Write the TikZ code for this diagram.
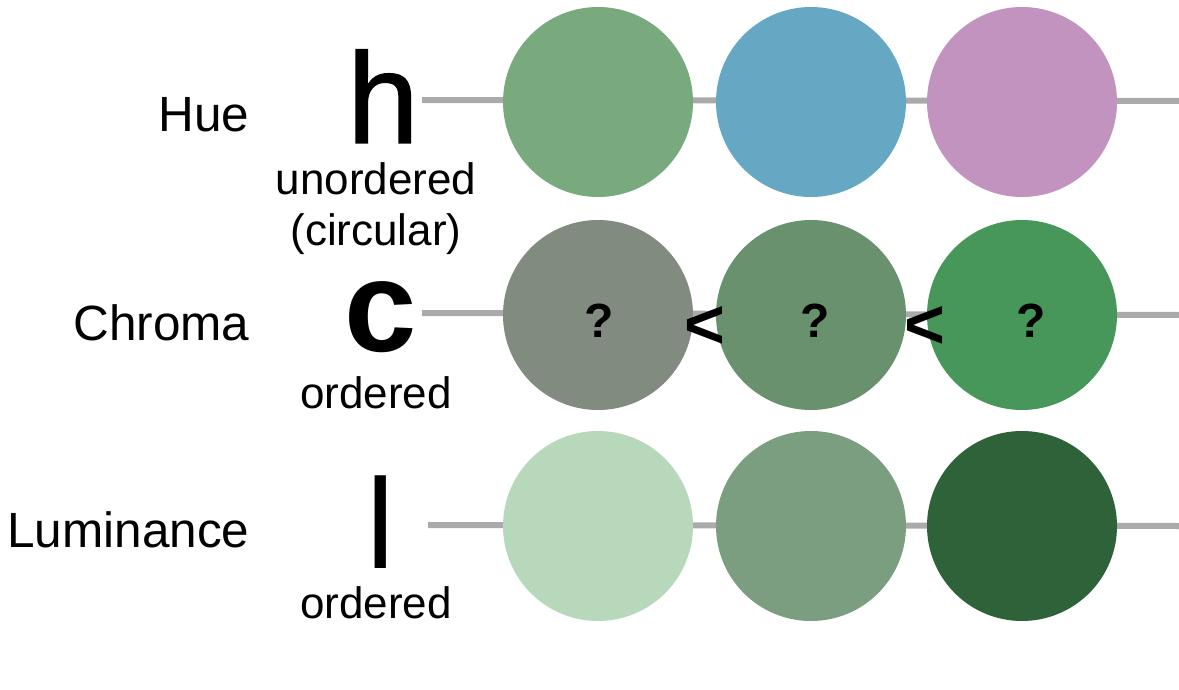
\documentclass[tikz,border=0pt]{standalone}
\usepackage{fontspec}
\setmainfont{Liberation Sans}
\newfontfamily\hsymfont[FakeBold=1]{Liberation Sans}
\definecolor{lineg}{HTML}{AAAAAA}
\definecolor{hA}{HTML}{78AA7E}
\definecolor{hB}{HTML}{66A8C4}
\definecolor{hC}{HTML}{C393BF}
\definecolor{cA}{HTML}{818B80}
\definecolor{cB}{HTML}{69916E}
\definecolor{cC}{HTML}{47965A}
\definecolor{lA}{HTML}{B8D8BC}
\definecolor{lB}{HTML}{7A9E7F}
\definecolor{lC}{HTML}{2E6238}
\begin{document}
\begin{tikzpicture}[x=1pt,y=-1pt,
  dot/.style={circle,minimum size=190pt,inner sep=0pt,draw=none},
  conn/.style={draw=lineg,line width=6pt},
  rowlabel/.style={anchor=base east,font=\fontsize{49.5}{49.5}\selectfont},
  bigsym/.style={anchor=base,font=\fontsize{130}{130}\selectfont},
  sub/.style={anchor=base,font=\fontsize{44}{44}\selectfont},
  qmark/.style={anchor=base,font=\fontsize{48}{48}\selectfont\bfseries},
  lt/.style={anchor=base,font=\fontsize{70}{70}\selectfont\bfseries}]
\useasboundingbox (0,0) rectangle (1179,690);
% row labels
\node[rowlabel] (hue) at (253,132) {Hue};
\node[rowlabel] (chroma) at (253,340) {Chroma};
\node[rowlabel] (lum) at (253,547) {Luminance};
% symbols
\node[bigsym,font=\hsymfont\fontsize{129}{129}\selectfont] (hsym) at (383,143) {h};
\node[bigsym,font=\fontsize{130}{130}\selectfont\bfseries] (csym) at (381,351) {c};
\node[anchor=base,font=\fontsize{128}{128}\selectfont] (lsym) at (381,568) {l};
\node[sub] (hsub1) at (376,195) {unordered};
\node[sub] (hsub2) at (376,245) {(circular)};
\node[sub] (csub) at (376,408) {ordered};
\node[sub] (lsub) at (376,618) {ordered};
% line ends
\coordinate (hs) at (422,100);
\coordinate (he) at (1179,101);
\coordinate (cs) at (422,313);
\coordinate (ce) at (1179,315);
\coordinate (ls) at (428,525);
\coordinate (le) at (1179,526);
% lines
\draw[conn] (hs) -- (he);
\draw[conn] (cs) -- (ce);
\draw[conn] (ls) -- (le);
% circles
\node[dot,fill=hA] (h1) at (598,102) {};
\node[dot,fill=hB] (h2) at (811,102) {};
\node[dot,fill=hC] (h3) at (1022,102) {};
\node[dot,fill=cA] (c1) at (598,315) {};
\node[dot,fill=cB] (c2) at (811,315) {};
\node[dot,fill=cC] (c3) at (1022,315) {};
\node[dot,fill=lA] (l1) at (598,526) {};
\node[dot,fill=lB] (l2) at (811,526) {};
\node[dot,fill=lC] (l3) at (1022,526) {};
% question marks
\node[qmark] (q1) at (599,337) {?};
\node[qmark] (q2) at (815,337) {?};
\node[qmark] (q3) at (1031,337) {?};
% less-than signs
\node[lt] (lt1) at (704.5,348) {<};
\node[lt] (lt2) at (924.5,348) {<};
\end{tikzpicture}
\end{document}
